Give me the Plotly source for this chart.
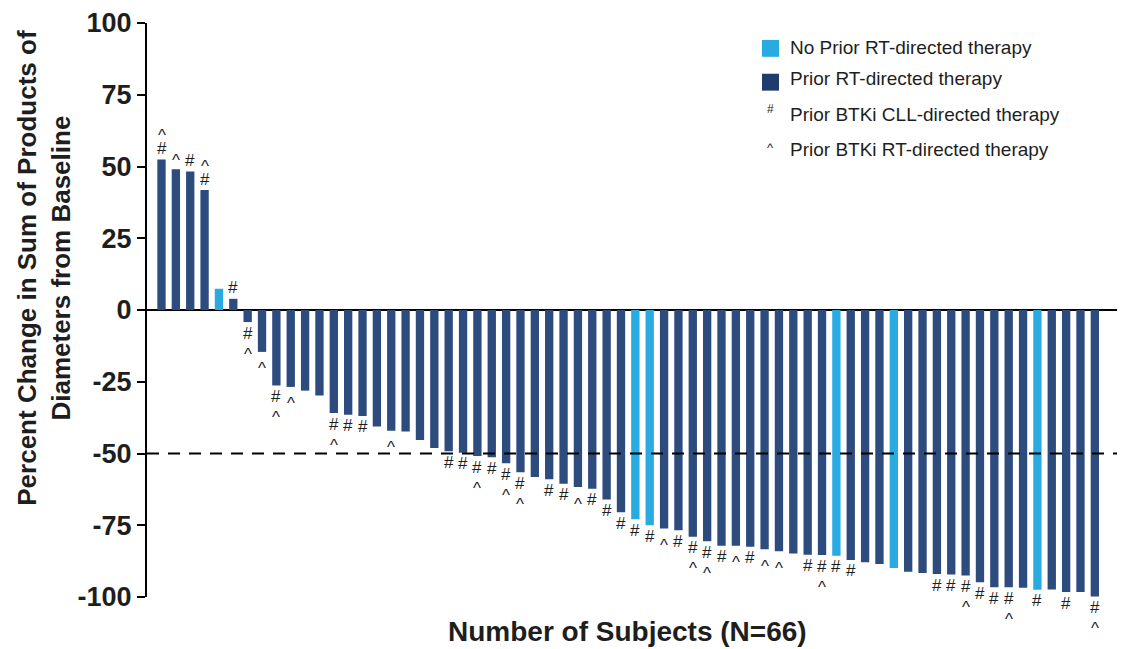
import plotly.graph_objects as go

# ---------------- data ----------------
subjects = list(range(1, 67))
pct_change = [
    52.4, 49.0, 48.3, 41.8, 7.4, 3.9, -4.2, -14.6, -26.3, -26.8,
    -28.1, -29.8, -35.9, -36.5, -36.9, -40.6, -42.1, -42.3, -45.3, -48.1,
    -49.2, -49.7, -50.9, -51.3, -53.4, -56.5, -58.2, -59.0, -60.5, -61.7,
    -62.3, -66.0, -70.5, -72.9, -75.0, -76.1, -76.7, -79.0, -80.6, -82.1,
    -82.1, -82.5, -83.4, -84.1, -84.8, -85.3, -85.4, -85.6, -87.1, -87.9,
    -88.5, -89.9, -91.2, -91.6, -92.0, -92.2, -92.5, -94.9, -96.6, -96.6,
    -96.8, -97.5, -97.4, -98.3, -98.3, -99.8,
]
# 1 = prior RT-directed therapy, 0 = no prior RT-directed therapy
prior_rt = [1] * 66
for s in (5, 34, 35, 48, 52, 62):
    prior_rt[s - 1] = 0
# subjects with prior BTKi CLL-directed therapy (#)
btki_cll_subjects = [1, 3, 4, 6, 7, 9, 13, 14, 15, 21, 22, 23, 24, 25, 26, 28, 29, 31,
                     32, 33, 34, 35, 37, 38, 39, 40, 42, 46, 47, 48, 49, 55, 56, 57,
                     58, 59, 60, 62, 64, 66]
# subjects with prior BTKi RT-directed therapy (^)
btki_rt_subjects = [1, 2, 4, 7, 8, 9, 10, 13, 17, 23, 25, 26, 30, 36, 38, 39, 41, 43,
                    44, 47, 57, 60, 66]
y_ticks = [100, 75, 50, 25, 0, -25, -50, -75, -100]
legend_labels = ["No Prior RT-directed therapy", "Prior RT-directed therapy",
                 "Prior BTKi CLL-directed therapy", "Prior BTKi RT-directed therapy"]

# ---------------- styles ----------------
DARK = "#2d4b7d"
LIGHT = "#29abe2"
LEG_DARK = "#1f3c6e"
FONT = "Arial, Liberation Sans, sans-serif"
TXT = "#1e1e1e"

# the page body has an 8px default margin, so the figure is offset by 8px
W, H = 1117, 641
ML, MR, MT, MB = 139, 0, 12, 52
# plot area in window pixels
PL, PR, PT, PB = 147, 1125, 20, 597


def px_x(px):
    return (px - PL) / (PR - PL)


def px_y(py):
    return (PB - py) / (PB - PT)


colors = [DARK if p else LIGHT for p in prior_rt]

fig = go.Figure()
fig.add_trace(go.Bar(x=subjects, y=pct_change, marker=dict(color=colors, line=dict(width=0)),
                     showlegend=False, hoverinfo="x+y"))

annotations = []
cll_set = set(btki_cll_subjects)
rt_set = set(btki_rt_subjects)
for s, v in zip(subjects, pct_change):
    sym = []
    if s in cll_set:
        sym.append("#")
    if s in rt_set:
        sym.append("^")
    sign = 1 if v > 0 else -1
    for k, ch in enumerate(sym):
        if ch == "#":
            d, corr, fs = 11, 0, 17
        else:
            d = 13 if k == 0 else 28
            corr, fs = 4, 17  # caret glyph sits high in its text box
        shift = sign * d - corr
        annotations.append(dict(x=s, y=v, xref="x", yref="y", text=ch, showarrow=False,
                                yanchor="middle", xanchor="center", yshift=shift,
                                font=dict(family=FONT, size=fs, color=TXT)))

# axis titles
annotations.append(dict(x=px_x(44), y=px_y(266), xref="paper", yref="paper", textangle=-90,
                        text="Percent Change in Sum of Products of<br>Diameters from Baseline",
                        showarrow=False, xanchor="center", yanchor="middle",
                        font=dict(family=FONT, size=26, color=TXT, weight="bold")))
annotations.append(dict(x=px_x(627), y=px_y(632), xref="paper", yref="paper",
                        text="Number of Subjects (N=66)", showarrow=False,
                        xanchor="center", yanchor="middle",
                        font=dict(family=FONT, size=28, color=TXT, weight="bold")))

# legend
row_y = [45, 76, 112, 147]
for i, lab in enumerate(legend_labels):
    annotations.append(dict(x=px_x(788), y=px_y(row_y[i]), xref="paper", yref="paper",
                            text=lab, showarrow=False, xanchor="left", yanchor="middle",
                            font=dict(family=FONT, size=19, color=TXT)))
annotations.append(dict(x=px_x(770), y=px_y(106), xref="paper", yref="paper", text="#",
                        showarrow=False, xanchor="center", yanchor="middle",
                        font=dict(family=FONT, size=12, color=TXT)))
annotations.append(dict(x=px_x(770), y=px_y(145), xref="paper", yref="paper", text="^",
                        showarrow=False, xanchor="center", yanchor="middle",
                        font=dict(family=FONT, size=13, color=TXT)))

shapes = [
    dict(type="line", xref="paper", yref="y", x0=0, x1=1, y0=-50, y1=-50,
         line=dict(color="black", width=2, dash="12px,9px")),
    dict(type="rect", xref="paper", yref="paper", x0=px_x(762), x1=px_x(779),
         y0=px_y(54), y1=px_y(37), fillcolor=LIGHT, line=dict(width=0)),
    dict(type="rect", xref="paper", yref="paper", x0=px_x(762), x1=px_x(779),
         y0=px_y(88), y1=px_y(71), fillcolor=LEG_DARK, line=dict(width=0)),
]

fig.update_layout(
    width=W, height=H,
    margin=dict(l=ML, r=MR, t=MT, b=MB, pad=0),
    paper_bgcolor="white", plot_bgcolor="white",
    bargap=0.42,
    showlegend=False,
    annotations=annotations,
    shapes=shapes,
    xaxis=dict(visible=False, range=[-0.01, 68.1]),
    yaxis=dict(range=[-100, 100], tickvals=y_ticks, ticktext=[str(t) for t in y_ticks],
               showgrid=False, showline=True, linecolor="black", linewidth=2,
               ticks="outside", ticklen=8, tickwidth=2, tickcolor="black",
               ticklabeloverflow="allow",
               tickfont=dict(family=FONT, size=27, color=TXT, weight="bold"),
               zeroline=True, zerolinecolor="black", zerolinewidth=2),
)

fig.write_html("out.html")
